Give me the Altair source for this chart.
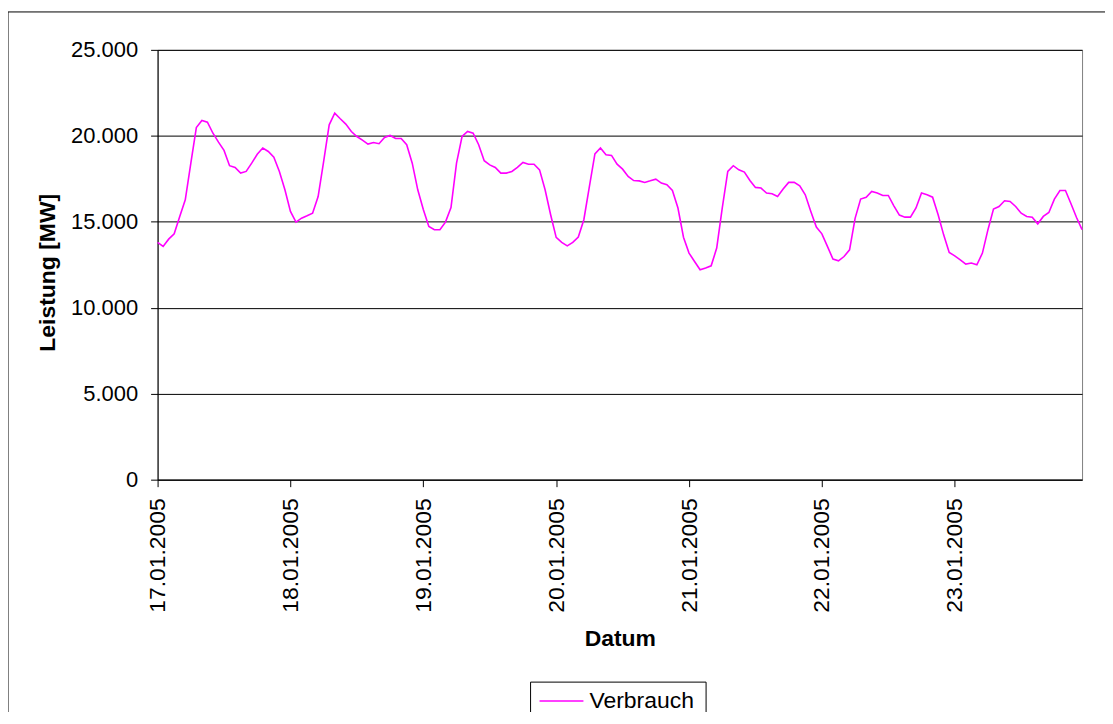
import altair as alt
import pandas as pd

# Hourly consumption (MW), 17.01.2005 00:00 .. 23.01.2005 23:00
day1 = [13800, 13570, 13990, 14300, 15310, 16280, 18400, 20480, 20890, 20790, 20150, 19630,
        19150, 18260, 18160, 17830, 17930, 18410, 18930, 19290, 19090, 18760, 17930, 16860]
day2 = [15600, 14980, 15210, 15350, 15500, 16470, 18510, 20640, 21320, 20990, 20680, 20250,
        19960, 19750, 19520, 19610, 19540, 19900, 20020, 19840, 19840, 19480, 18410, 16860]
day3 = [15720, 14730, 14540, 14540, 14980, 15830, 18410, 19960, 20250, 20150, 19480, 18550,
        18310, 18160, 17830, 17830, 17930, 18160, 18450, 18350, 18350, 18020, 16860, 15410]
day4 = [14090, 13800, 13600, 13800, 14110, 15120, 17050, 18950, 19290, 18900, 18860, 18350,
        18060, 17640, 17400, 17380, 17290, 17380, 17480, 17250, 17150, 16820, 15800, 14100]
day5 = [13180, 12690, 12210, 12310, 12440, 13470, 15800, 17930, 18260, 18020, 17890, 17400,
        17000, 16960, 16670, 16630, 16470, 16900, 17290, 17290, 17090, 16570, 15600, 14690]
day6 = [14300, 13570, 12830, 12730, 12980, 13370, 15200, 16320, 16430, 16760, 16670, 16530,
        16530, 15930, 15390, 15270, 15270, 15800, 16670, 16570, 16430, 15410, 14240, 13220]
day7 = [13020, 12790, 12540, 12600, 12500, 13180, 14540, 15740, 15890, 16220, 16180, 15890,
        15500, 15310, 15270, 14880, 15310, 15540, 16320, 16820, 16820, 16050, 15250, 14540]

date_labels = ["17.01.2005", "18.01.2005", "19.01.2005", "20.01.2005",
               "21.01.2005", "22.01.2005", "23.01.2005"]
y_ticks = [0, 5000, 10000, 15000, 20000, 25000]
series_name = ["Verbrauch"]
line_color = "#FF00FF"

values = day1 + day2 + day3 + day4 + day5 + day6 + day7
df = pd.DataFrame({"hour": list(range(len(values))), "mw": values})

FONT = "Liberation Sans"
W, H = 927, 431

label_arr = "[" + ",".join("'" + d + "'" for d in date_labels) + "]"

x_axis = alt.Axis(
    values=[i * 24 for i in range(len(date_labels))],
    labelExpr=label_arr + "[round(datum.value/24)]",
    labelAngle=-90, labelFontSize=23, labelFont=FONT, labelColor="black",
    labelPadding=11, tickSize=7, tickColor="black", domainColor="black",
    grid=False, title="Datum", titleFont=FONT, titleFontSize=23, titleFontWeight="bold",
    titleColor="black", titleY=159, titleBaseline="middle",
)
y_axis = alt.Axis(
    values=y_ticks,
    labelExpr="replace(format(datum.value, ','), ',', '.')",
    labelFontSize=22, labelFont=FONT, labelColor="black", labelPadding=13,
    tickSize=7, tickColor="black", domainColor="black",
    grid=True, gridColor="black", gridWidth=1, gridOpacity=1,
    title="Leistung [MW]", titleFont=FONT, titleFontSize=23, titleFontWeight="bold",
    titleColor="black", titleX=-110, titleY=223, titleAngle=-90, titleAlign="center",
    titleBaseline="middle",
)

line = alt.Chart(df).mark_line(strokeWidth=1.6, clip=False, color=line_color).encode(
    x=alt.X("hour:Q", scale=alt.Scale(domain=[0, len(values) - 1], nice=False, zero=False),
            axis=x_axis),
    y=alt.Y("mw:Q", scale=alt.Scale(domain=[0, 25000], nice=False), axis=y_axis),
)

one = pd.DataFrame({"label": series_name})

frame = alt.Chart(one).mark_rect(
    fill=None, stroke="black", strokeWidth=1, clip=False
).encode(
    x=alt.value(-150), x2=alt.value(965), y=alt.value(-38), y2=alt.value(720)
)

legend_box = alt.Chart(one).mark_rect(
    fill="white", stroke="black", strokeWidth=1, clip=False
).encode(
    x=alt.value(374), x2=alt.value(550), y=alt.value(634), y2=alt.value(720)
)
legend_line = alt.Chart(one).mark_rule(
    color=line_color, strokeWidth=1.6, clip=False
).encode(
    x=alt.value(383), x2=alt.value(427), y=alt.value(653)
)
legend_text = alt.Chart(one).mark_text(
    font=FONT, fontSize=23, color="black", align="left", baseline="middle", clip=False
).encode(
    text="label:N", x=alt.value(433), y=alt.value(653)
)

chart = alt.layer(frame, line, legend_box, legend_line, legend_text).properties(
    width=W, height=H,
    autosize=alt.AutoSizeParams(type="none"),
    padding={"left": 150, "top": 41, "right": 23, "bottom": 232},
    background="white",
).configure_view(stroke="#808080", strokeWidth=1)

chart.save("out.html", embed_options={"renderer": "svg", "actions": False})
